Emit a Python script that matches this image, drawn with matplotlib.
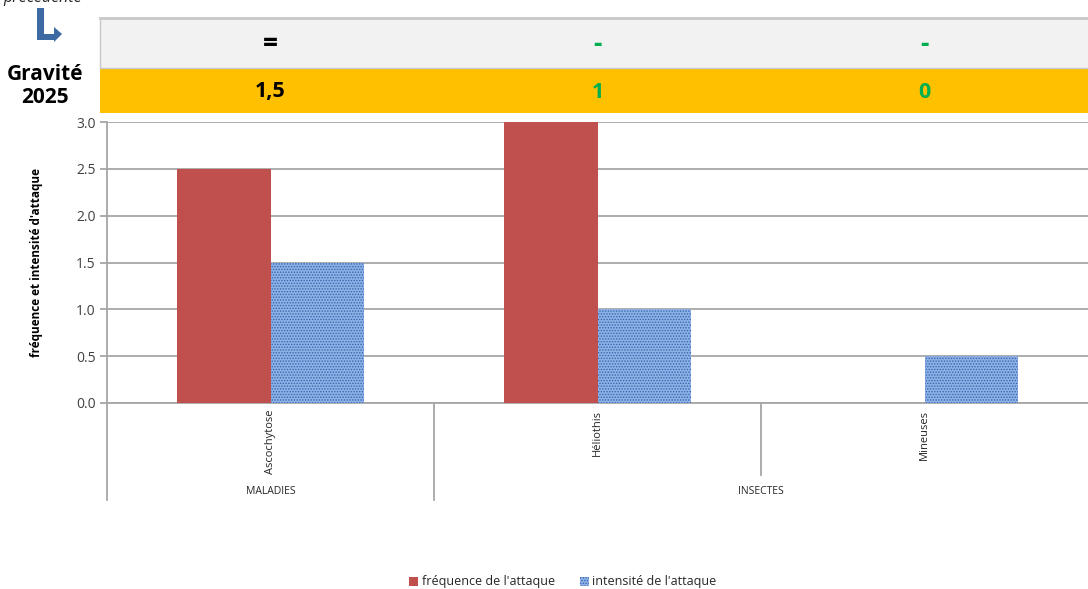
import matplotlib
matplotlib.use("Agg")
import matplotlib.pyplot as plt
import matplotlib.transforms as mtransforms
from matplotlib.patches import Rectangle, Polygon, Patch
from matplotlib.lines import Line2D

# ---- data ----
categories = ["Ascochytose", "Héliothis", "Mineuses"]
groups = ["MALADIES", "INSECTES"]
group_spans = [(0, 1), (1, 3)]  # category index ranges
frequence = [2.5, 3.0, 0.0]
intensite = [1.5, 1.0, 0.5]
evolution = ["=", "-", "-"]
gravite = ["1,5", "1", "0"]
row_colors = ["#000000", "#00B050", "#00B050"]
yticks = [0.0, 0.5, 1.0, 1.5, 2.0, 2.5, 3.0]
series_names = ["fréquence de l'attaque", "intensité de l'attaque"]

plt.rcParams['font.family'] = ['Open Sans', 'DejaVu Sans']
plt.rcParams['hatch.linewidth'] = 0.7

W, H = 1088, 589
fig = plt.figure(figsize=(W / 100, H / 100), dpi=100)

def fx(x):
    return x / W

def fy(y):
    return 1 - y / H

ax_l, ax_r, ax_t, ax_b = 107, 1088, 122, 403
ax = fig.add_axes([fx(ax_l), fy(ax_b), fx(ax_r - ax_l), (ax_b - ax_t) / H])

RED = "#C0504D"
BLUE_FACE = "#8FB2E6"
BLUE_HATCH = "#3565B0"

x = list(range(len(categories)))
bw = 0.285
ax.bar([i - bw / 2 for i in x], frequence, width=bw, color=RED, linewidth=0, zorder=3)
ax.bar([i + bw / 2 for i in x], intensite, width=bw, facecolor=BLUE_FACE, edgecolor=BLUE_HATCH,
       hatch="......", linewidth=0, zorder=3)

ax.set_xlim(-0.5, len(categories) - 0.5)
ax.set_ylim(0, 3.0)
ax.set_yticks(yticks)
ax.set_yticklabels([f"{v:.1f}" for v in yticks], fontsize=10, color="#404040")
ax.yaxis.grid(True, color="#A6A6A6", linewidth=1.3, zorder=0)
ax.set_axisbelow(True)
for s in ["top", "right"]:
    ax.spines[s].set_visible(False)
for s in ["left", "bottom"]:
    ax.spines[s].set_color("#A6A6A6")
    ax.spines[s].set_linewidth(1.3)
ax.tick_params(axis='y', length=5, color="#A6A6A6", width=1.3, pad=3)
ax.tick_params(axis='x', length=0)
ax.set_xticks(x)
ax.set_xticklabels([])
ax.set_ylabel("fréquence et intensité d'attaque", fontsize=8.5, fontweight="bold", labelpad=24)

trans = mtransforms.blended_transform_factory(ax.transData, ax.transAxes)
h_ax = ax_b - ax_t
for i, c in enumerate(categories):
    ax.text(i, -7 / h_ax, c, rotation=90, ha="center", va="top", fontsize=8,
            color="#262626", transform=trans)

def ya(ypix):
    return (ax_b - ypix) / h_ax

# separators (the right-most edge lies outside the visible frame)
group_edges = set()
for a, b in group_spans:
    group_edges.add(a - 0.5)
    group_edges.add(b - 0.5)
for i in range(len(categories)):
    xe = i - 0.5
    y_end = 500 if xe in group_edges else 475
    ax.add_line(Line2D([xe, xe], [0, ya(y_end)], color="#A6A6A6", linewidth=1.3,
                       transform=trans, clip_on=False))
for (a, b), g in zip(group_spans, groups):
    ax.text((a + b - 1) / 2, ya(492), g, ha="center", va="center", fontsize=7.5,
            color="#262626", transform=trans)

# header rows
grey_top, grey_bot, yel_bot = 18, 68, 113
fig.patches.append(Rectangle((fx(100), fy(grey_bot)), fx(W - 100), (grey_bot - grey_top) / H,
                             facecolor="#F2F2F2", edgecolor="none", transform=fig.transFigure))
fig.patches.append(Rectangle((fx(100), fy(yel_bot)), fx(W - 100), (yel_bot - grey_bot) / H,
                             facecolor="#FFC000", edgecolor="none", transform=fig.transFigure))
fig.add_artist(Line2D([fx(100), 1], [fy(grey_top), fy(grey_top)], color="#C8C8C8", linewidth=2,
                      transform=fig.transFigure))
fig.add_artist(Line2D([fx(100), 1], [fy(grey_bot), fy(grey_bot)], color="#C8C8C8", linewidth=1,
                      transform=fig.transFigure))
fig.add_artist(Line2D([fx(100), fx(100)], [fy(grey_top), fy(grey_bot)], color="#C8C8C8", linewidth=1,
                      transform=fig.transFigure))

col_centers = [fig.transFigure.inverted().transform(ax.transData.transform((i, 0)))[0] for i in x]
for cx, ev, gv, col in zip(col_centers, evolution, gravite, row_colors):
    fig.text(cx, fy(45), ev, ha="center", va="center", fontsize=19, fontweight="bold", color=col)
    fig.text(cx, fy(92), gv, ha="center", va="center", fontsize=15.5, fontweight="bold", color=col)

fig.text(fx(45), fy(86), "Gravité\n2025", ha="center", va="center", fontsize=15,
         fontweight="bold", color="#000000", linespacing=1.15)
fig.text(fx(43), fy(6), "précédente", ha="center", va="bottom", fontsize=11.5,
         style="italic", color="#262626")

# arrow (L-shape)
arrow_col = "#3E6AA3"
fig.patches.append(Rectangle((fx(37), fy(40)), fx(7), 32 / H, facecolor=arrow_col,
                             edgecolor="none", transform=fig.transFigure))
fig.patches.append(Rectangle((fx(37), fy(40)), fx(18), 6 / H, facecolor=arrow_col,
                             edgecolor="none", transform=fig.transFigure))
fig.patches.append(Polygon([(fx(54), fy(27)), (fx(62), fy(34)), (fx(54), fy(42))],
                           closed=True, facecolor=arrow_col, edgecolor="none",
                           transform=fig.transFigure))

# legend
handles = [Patch(facecolor=RED, linewidth=0),
           Patch(facecolor=BLUE_FACE, edgecolor=BLUE_HATCH, hatch="......", linewidth=0)]
fig.legend(handles, series_names, loc="center", bbox_to_anchor=(fx(563), fy(582)), ncol=2,
           frameon=False, fontsize=9, handlelength=0.7, handleheight=0.7, handletextpad=0.3,
           columnspacing=2.0, labelcolor="#262626")

fig.savefig("out.png", dpi=100)
